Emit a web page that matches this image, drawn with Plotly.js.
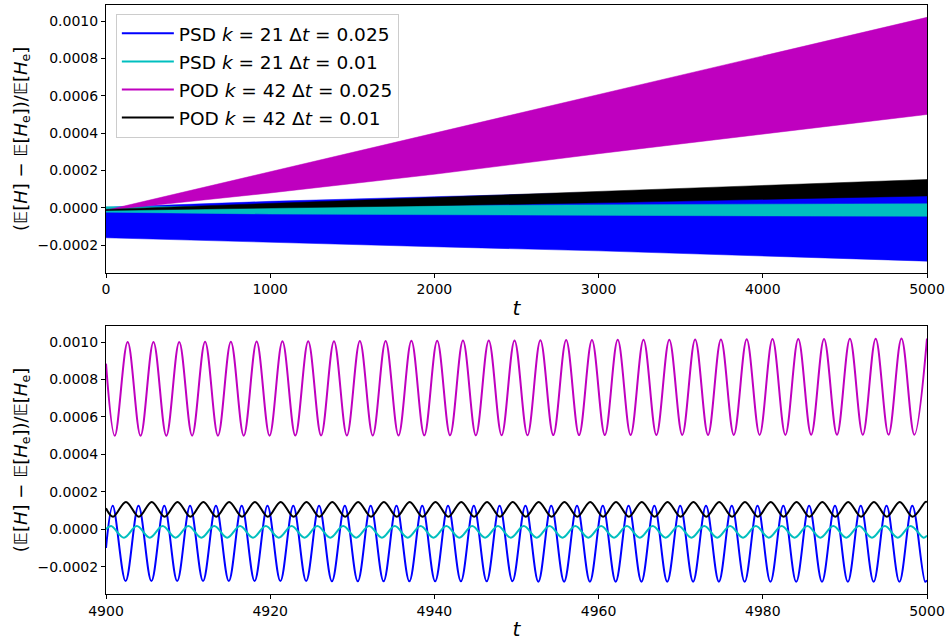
<!DOCTYPE html>
<html><head><meta charset="utf-8">
<script src="https://cdn.plot.ly/plotly-3.0.1.min.js"></script>
<style>body{margin:0;padding:0;background:#fff}#chart{width:948px;height:643px}</style>
</head><body><div id="chart"></div>
<script>
// ---------- legend / series ----------
const seriesNames = [
  'PSD <i>k</i> = 21 Δ<i>t</i> = 0.025',
  'PSD <i>k</i> = 21 Δ<i>t</i> = 0.01',
  'POD <i>k</i> = 42 Δ<i>t</i> = 0.025',
  'POD <i>k</i> = 42 Δ<i>t</i> = 0.01'
];
const seriesColors = ['#0000ff', '#00bfbf', '#bf00bf', '#000000'];

// ---------- top panel: envelopes of the fast oscillations (read at these t) ----------
const envT = [0, 1000, 2000, 3000, 4000, 5000];
const psd025Hi = [3e-6, 3.5e-5, 6.0e-5, 8.3e-5, 1.05e-4, 1.25e-4];
const psd025Lo = [-1.60e-4, -1.85e-4, -2.08e-4, -2.30e-4, -2.56e-4, -2.85e-4];
const psd01Hi  = [6e-6, 1.0e-5, 1.5e-5, 1.8e-5, 2.0e-5, 2.2e-5];
const psd01Lo  = [-2.3e-5, -3.3e-5, -3.7e-5, -4.0e-5, -4.3e-5, -4.5e-5];
const pod025Hi = [-1.3e-5, 1.94e-4, 4.00e-4, 6.07e-4, 8.13e-4, 1.020e-3];
const pod025Lo = [-1.3e-5, 8.0e-5, 1.80e-4, 2.90e-4, 3.95e-4, 5.00e-4];
const pod01Hi  = [-8e-6, 2.4e-5, 5.6e-5, 8.8e-5, 1.20e-4, 1.52e-4];
const pod01Lo  = [-1.4e-5, -2e-6, 1.2e-5, 2.7e-5, 4.5e-5, 6.4e-5];

// ---------- bottom panel: turning points read from the zoomed window ----------
const psd025T = [4900.00,4900.82,4902.39,4903.96,4905.53,4907.10,4908.67,4910.24,4911.82,4913.39,4914.96,4916.53,4918.10,4919.67,4921.24,4922.81,4924.38,4925.95,4927.52,4929.09,4930.67,4932.24,4933.81,4935.38,4936.95,4938.52,4940.09,4941.66,4943.23,4944.80,4946.37,4947.94,4949.51,4951.09,4952.66,4954.23,4955.80,4957.37,4958.94,4960.51,4962.08,4963.65,4965.22,4966.79,4968.36,4969.94,4971.51,4973.08,4974.65,4976.22,4977.79,4979.36,4980.93,4982.50,4984.07,4985.64,4987.21,4988.79,4990.36,4991.93,4993.50,4995.07,4996.64,4998.21,4999.78,5000.00];
const psd025Y = [-1.00e-4,
  1.25e-4,-2.77e-4,1.25e-4,-2.77e-4,1.25e-4,-2.77e-4,1.25e-4,-2.77e-4,1.25e-4,-2.77e-4,1.25e-4,-2.77e-4,1.25e-4,-2.77e-4,1.25e-4,-2.77e-4,
  1.25e-4,-2.78e-4,1.25e-4,-2.78e-4,1.25e-4,-2.78e-4,1.25e-4,-2.78e-4,1.25e-4,-2.78e-4,1.25e-4,-2.78e-4,1.25e-4,-2.78e-4,1.25e-4,-2.78e-4,
  1.26e-4,-2.80e-4,1.26e-4,-2.80e-4,1.26e-4,-2.80e-4,1.26e-4,-2.80e-4,1.26e-4,-2.80e-4,1.26e-4,-2.80e-4,1.26e-4,-2.80e-4,1.26e-4,-2.80e-4,
  1.26e-4,-2.81e-4,1.26e-4,-2.81e-4,1.26e-4,-2.81e-4,1.26e-4,-2.81e-4,1.26e-4,-2.81e-4,1.26e-4,-2.81e-4,1.26e-4,-2.81e-4,1.26e-4,-2.81e-4,
  -2.72e-4];

const psd01T = [4900.00,4900.62,4902.19,4903.76,4905.33,4906.90,4908.47,4910.04,4911.62,4913.19,4914.76,4916.33,4917.90,4919.47,4921.04,4922.61,4924.18,4925.75,4927.32,4928.89,4930.47,4932.04,4933.61,4935.18,4936.75,4938.32,4939.89,4941.46,4943.03,4944.60,4946.17,4947.74,4949.31,4950.89,4952.46,4954.03,4955.60,4957.17,4958.74,4960.31,4961.88,4963.45,4965.02,4966.59,4968.16,4969.74,4971.31,4972.88,4974.45,4976.02,4977.59,4979.16,4980.73,4982.30,4983.87,4985.44,4987.01,4988.59,4990.16,4991.73,4993.30,4994.87,4996.44,4998.01,4999.58,5000.00];
const psd01Y = [0.0,
  1.76e-5,-4.5e-5,1.76e-5,-4.5e-5,1.76e-5,-4.5e-5,1.76e-5,-4.5e-5,1.76e-5,-4.5e-5,1.76e-5,-4.5e-5,1.76e-5,-4.5e-5,1.76e-5,-4.5e-5,
  1.76e-5,-4.5e-5,1.76e-5,-4.5e-5,1.76e-5,-4.5e-5,1.76e-5,-4.5e-5,1.76e-5,-4.5e-5,1.76e-5,-4.5e-5,1.76e-5,-4.5e-5,1.76e-5,-4.5e-5,
  1.76e-5,-4.5e-5,1.76e-5,-4.5e-5,1.76e-5,-4.5e-5,1.76e-5,-4.5e-5,1.76e-5,-4.5e-5,1.76e-5,-4.5e-5,1.76e-5,-4.5e-5,1.76e-5,-4.5e-5,
  1.76e-5,-4.5e-5,1.76e-5,-4.5e-5,1.76e-5,-4.5e-5,1.76e-5,-4.5e-5,1.76e-5,-4.5e-5,1.76e-5,-4.5e-5,1.76e-5,-4.5e-5,1.76e-5,-4.5e-5,
  -3.4e-5];

const pod025T = [4900.00,4901.07,4902.64,4904.21,4905.78,4907.35,4908.92,4910.49,4912.07,4913.64,4915.21,4916.78,4918.35,4919.92,4921.49,4923.06,4924.63,4926.20,4927.77,4929.34,4930.92,4932.49,4934.06,4935.63,4937.20,4938.77,4940.34,4941.91,4943.48,4945.05,4946.62,4948.19,4949.76,4951.34,4952.91,4954.48,4956.05,4957.62,4959.19,4960.76,4962.33,4963.90,4965.47,4967.04,4968.61,4970.19,4971.76,4973.33,4974.90,4976.47,4978.04,4979.61,4981.18,4982.75,4984.32,4985.89,4987.46,4989.04,4990.61,4992.18,4993.75,4995.32,4996.89,4998.46,5000.00];
const pod025Y = [8.85e-4,
  4.99e-4,1.000e-3,4.99e-4,1.001e-3,4.99e-4,1.001e-3,5.00e-4,1.002e-3,5.00e-4,1.002e-3,5.00e-4,1.003e-3,5.00e-4,1.004e-3,5.01e-4,1.004e-3,
  5.01e-4,1.005e-3,5.01e-4,1.006e-3,5.01e-4,1.006e-3,5.01e-4,1.007e-3,5.02e-4,1.007e-3,5.02e-4,1.008e-3,5.02e-4,1.009e-3,5.02e-4,1.009e-3,
  5.02e-4,1.010e-3,5.03e-4,1.011e-3,5.03e-4,1.011e-3,5.03e-4,1.012e-3,5.03e-4,1.013e-3,5.03e-4,1.013e-3,5.04e-4,1.014e-3,5.04e-4,1.014e-3,
  5.04e-4,1.015e-3,5.04e-4,1.016e-3,5.04e-4,1.016e-3,5.05e-4,1.017e-3,5.05e-4,1.018e-3,5.05e-4,1.018e-3,5.05e-4,1.019e-3,5.05e-4,
  1.019e-3];

const pod01T = [4900.00,4900.86,4902.43,4904.00,4905.57,4907.14,4908.71,4910.28,4911.86,4913.43,4915.00,4916.57,4918.14,4919.71,4921.28,4922.85,4924.42,4925.99,4927.56,4929.13,4930.71,4932.28,4933.85,4935.42,4936.99,4938.56,4940.13,4941.70,4943.27,4944.84,4946.41,4947.98,4949.55,4951.13,4952.70,4954.27,4955.84,4957.41,4958.98,4960.55,4962.12,4963.69,4965.26,4966.83,4968.40,4969.98,4971.55,4973.12,4974.69,4976.26,4977.83,4979.40,4980.97,4982.54,4984.11,4985.68,4987.25,4988.83,4990.40,4991.97,4993.54,4995.11,4996.68,4998.25,4999.82,5000.00];
const pod01Y = [1.12e-4,
  6.7e-5,1.46e-4,6.7e-5,1.46e-4,6.7e-5,1.46e-4,6.7e-5,1.46e-4,6.7e-5,1.46e-4,6.7e-5,1.46e-4,6.7e-5,1.46e-4,6.7e-5,1.46e-4,
  6.7e-5,1.46e-4,6.7e-5,1.46e-4,6.7e-5,1.46e-4,6.7e-5,1.46e-4,6.7e-5,1.46e-4,6.7e-5,1.46e-4,6.7e-5,1.46e-4,6.7e-5,1.46e-4,
  6.7e-5,1.46e-4,6.7e-5,1.46e-4,6.7e-5,1.46e-4,6.7e-5,1.46e-4,6.7e-5,1.46e-4,6.7e-5,1.46e-4,6.7e-5,1.46e-4,6.7e-5,1.46e-4,
  6.7e-5,1.46e-4,6.7e-5,1.46e-4,6.7e-5,1.46e-4,6.7e-5,1.46e-4,6.7e-5,1.46e-4,6.7e-5,1.46e-4,6.7e-5,1.46e-4,6.7e-5,1.46e-4,
  1.45e-4];

// ---------- axis ticks ----------
const topXTicks = [0, 1000, 2000, 3000, 4000, 5000];
const botXTicks = [4900, 4920, 4940, 4960, 4980, 5000];
const yTicks = [-0.0002, 0.0000, 0.0002, 0.0004, 0.0006, 0.0008, 0.0010];

// ---------- traces ----------
const envHi = [psd025Hi, psd01Hi, pod025Hi, pod01Hi];
const envLo = [psd025Lo, psd01Lo, pod025Lo, pod01Lo];
const botT = [psd025T, psd01T, pod025T, pod01T];
const botY = [psd025Y, psd01Y, pod025Y, pod01Y];

const traces = [];
for (let i = 0; i < 4; i++) {
  traces.push({
    x: envT.concat(envT.slice().reverse()),
    y: envHi[i].concat(envLo[i].slice().reverse()),
    xaxis: 'x', yaxis: 'y',
    mode: 'lines', fill: 'toself',
    fillcolor: seriesColors[i],
    line: {color: seriesColors[i], width: 0.5},
    showlegend: false, hoverinfo: 'skip'
  });
}
for (let i = 0; i < 4; i++) {
  traces.push({
    x: botT[i], y: botY[i],
    xaxis: 'x2', yaxis: 'y2',
    mode: 'lines',
    line: {color: seriesColors[i], width: 2, shape: 'spline', smoothing: 1},
    name: seriesNames[i],
    legendgroup: 'g' + i,
    showlegend: true
  });
}

const yRange = [-0.000346, 0.001086];
const yTitle = '(𝔼[<i>H</i>] − 𝔼[<i>H</i><sub>e</sub>])/𝔼[<i>H</i><sub>e</sub>]';
const axisCommon = {
  ticks: 'outside', ticklen: 4, tickwidth: 1, tickcolor: 'black',
  showline: true, mirror: true, linecolor: 'black', linewidth: 1,
  showgrid: false, zeroline: false,
  tickfont: {size: 14, color: 'black'}
};

const layout = {
  width: 948, height: 643,
  margin: {l: 106, r: 21, t: 5, b: 49},
  paper_bgcolor: 'white', plot_bgcolor: 'white',
  font: {family: 'DejaVu Sans, sans-serif', size: 14, color: 'black'},
  showlegend: true,
  legend: {
    x: 0.012, y: 0.985, xanchor: 'left', yanchor: 'top',
    bgcolor: 'rgba(255,255,255,0.85)', bordercolor: '#cccccc', borderwidth: 1,
    font: {size: 18.5, color: 'black'},
    traceorder: 'grouped', tracegroupgap: 1, itemwidth: 52
  },
  xaxis: Object.assign({}, axisCommon, {
    domain: [0, 1], range: [0, 5000], anchor: 'y',
    tickmode: 'array', tickvals: topXTicks,
    title: {text: '<i>t</i>', font: {size: 20}, standoff: 4}
  }),
  yaxis: Object.assign({}, axisCommon, {
    domain: [0.5458, 1], range: yRange, anchor: 'x',
    tickmode: 'array', tickvals: yTicks, tickformat: '.4f',
    title: {text: yTitle, font: {size: 18}, standoff: 5}
  }),
  xaxis2: Object.assign({}, axisCommon, {
    domain: [0, 1], range: [4900, 5000], anchor: 'y2',
    tickmode: 'array', tickvals: botXTicks,
    title: {text: '<i>t</i>', font: {size: 20}, standoff: 4}
  }),
  yaxis2: Object.assign({}, axisCommon, {
    domain: [0, 0.455], range: yRange, anchor: 'x2',
    tickmode: 'array', tickvals: yTicks, tickformat: '.4f',
    title: {text: yTitle, font: {size: 18}, standoff: 5}
  })
};

Plotly.newPlot('chart', traces, layout, {displayModeBar: false, staticPlot: true});
</script>
</body></html>
